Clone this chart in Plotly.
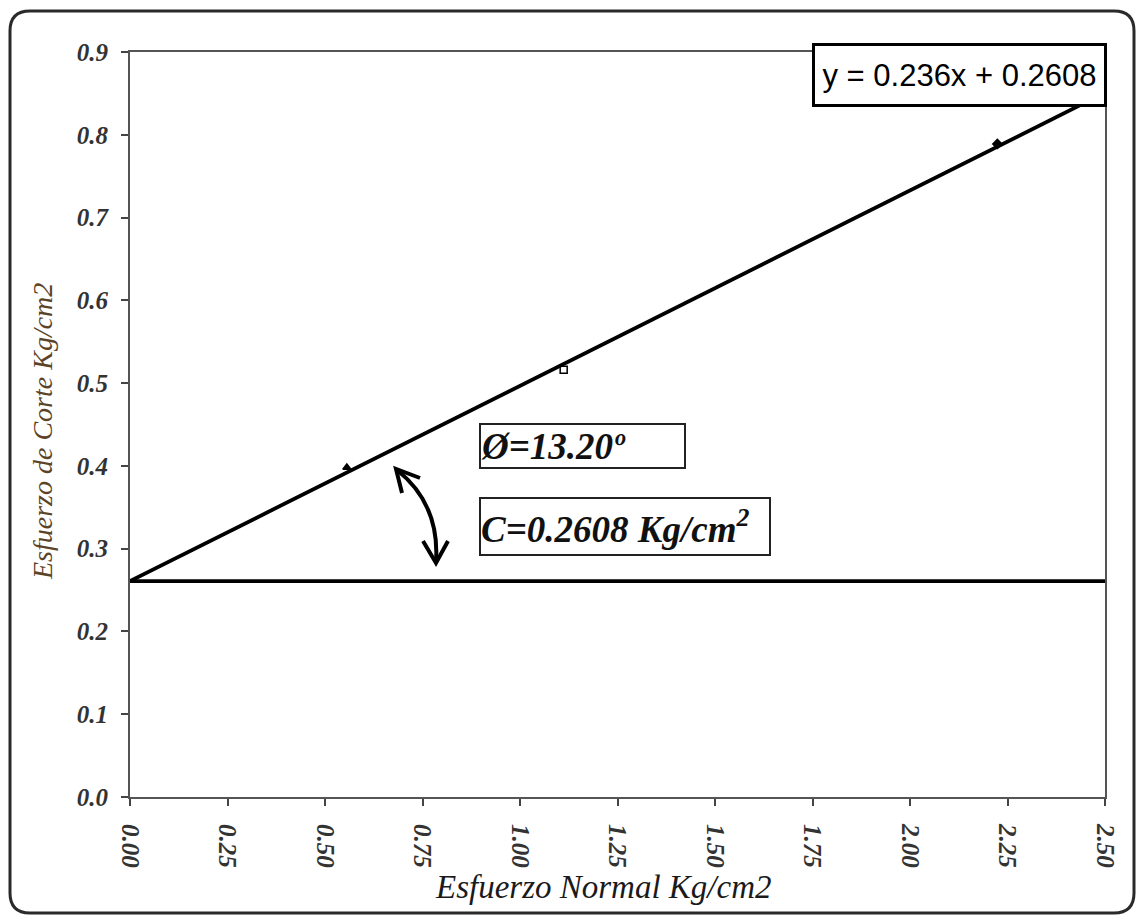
import plotly.graph_objects as go

# Direct shear test results: normal stress vs. shear stress (Kg/cm2)
normal_stress = [0.556, 1.112, 2.224]
shear_stress = [0.398, 0.516, 0.789]

# Fitted Mohr-Coulomb envelope: y = slope * x + cohesion
slope = 0.236
cohesion = 0.2608
friction_angle = 13.20

x_ticks = [0.00, 0.25, 0.50, 0.75, 1.00, 1.25, 1.50, 1.75, 2.00, 2.25, 2.50]
y_ticks = [0.0, 0.1, 0.2, 0.3, 0.4, 0.5, 0.6, 0.7, 0.8, 0.9]
x_range = [0.0, 2.5]
y_range = [0.0, 0.9]

W, H = 1137, 917
ML, MR, MT, MB = 130, 32, 52, 120
PW, PH = W - ML - MR, H - MT - MB


def px(xp):
    return (xp - ML) / PW


def py(yp):
    return (H - MB - yp) / PH


SERIF = "Liberation Serif, Times New Roman, serif"
SANS = "Liberation Sans, Arial, sans-serif"

fig = go.Figure()

# envelope line across the whole axis
env_x = [x_range[0], x_range[1]]
env_y = [slope * v + cohesion for v in env_x]
fig.add_trace(go.Scatter(x=env_x, y=env_y, mode="lines",
                         line=dict(color="black", width=3.8),
                         hoverinfo="skip", showlegend=False))

# cohesion reference line
fig.add_trace(go.Scatter(x=env_x, y=[cohesion, cohesion], mode="lines",
                         line=dict(color="black", width=3.8),
                         hoverinfo="skip", showlegend=False))

# measured points
symbols = ["triangle-up", "square-open", "diamond"]
for i in range(len(normal_stress)):
    fig.add_trace(go.Scatter(
        x=[normal_stress[i]], y=[shear_stress[i]], mode="markers",
        marker=dict(symbol=symbols[i], size=7, color="black",
                    line=dict(color="black", width=1.5)),
        showlegend=False))

shapes = []

# rounded outer frame
x0, x1 = px(10), px(1134)
yt, yb = py(11), py(913)
rx, ry = 20 / PW, 20 / PH
frame = (f"M {x0+rx},{yt} L {x1-rx},{yt} Q {x1},{yt} {x1},{yt-ry} "
         f"L {x1},{yb+ry} Q {x1},{yb} {x1-rx},{yb} "
         f"L {x0+rx},{yb} Q {x0},{yb} {x0},{yb+ry} "
         f"L {x0},{yt-ry} Q {x0},{yt} {x0+rx},{yt} Z")
shapes.append(dict(type="path", xref="paper", yref="paper", path=frame,
                   line=dict(color="#2a2a2a", width=3)))

# curved double arrow marking the friction angle
p0, c, p2 = (397, 470), (440, 504), (436, 562)
curve = (f"M {px(p0[0])},{py(p0[1])} Q {px(c[0])},{py(c[1])} "
         f"{px(p2[0])},{py(p2[1])}")
shapes.append(dict(type="path", xref="paper", yref="paper", path=curve,
                   line=dict(color="black", width=4)))
for tip, a1, a2 in [((396, 469), (420, 478), (402, 493)),
                    ((436, 563), (423, 541), (448, 541))]:
    head = (f"M {px(a1[0])},{py(a1[1])} L {px(tip[0])},{py(tip[1])} "
            f"L {px(a2[0])},{py(a2[1])}")
    shapes.append(dict(type="path", xref="paper", yref="paper", path=head,
                       line=dict(color="black", width=4)))

annotations = [
    dict(text=f"y = {slope}x + {cohesion}", xref="paper", yref="paper",
         x=px(959.5), y=py(75), xanchor="center", yanchor="middle",
         showarrow=False, font=dict(family=SANS, size=31, color="black"),
         bgcolor="white", bordercolor="black", borderwidth=3, borderpad=0,
         width=289, height=58),
    dict(text=f"<b><i>Ø={friction_angle:.2f}º</i></b>", xref="paper", yref="paper",
         x=px(582.5), y=py(446), xanchor="center", yanchor="middle",
         showarrow=False, align="left",
         font=dict(family=SERIF, size=37, color="#111"),
         bgcolor="white", bordercolor="#222", borderwidth=2, borderpad=0,
         width=203, height=42),
    dict(text=f"<b><i>C={cohesion} Kg/cm<sup>2</sup></i></b>", xref="paper", yref="paper",
         x=px(625), y=py(526.5), xanchor="center", yanchor="middle",
         showarrow=False, align="left",
         font=dict(family=SERIF, size=37, color="#111"),
         bgcolor="white", bordercolor="#222", borderwidth=2, borderpad=0,
         width=288, height=55),
    dict(text="<i>Esfuerzo Normal Kg/cm2</i>", xref="paper", yref="paper",
         x=px(603), y=py(887), xanchor="center", yanchor="middle",
         showarrow=False, font=dict(family=SERIF, size=33, color="#1a1a1a")),
    dict(text="<i>Esfuerzo de Corte Kg/cm2</i>", xref="paper", yref="paper",
         x=px(43), y=py(432), xanchor="center", yanchor="middle",
         textangle=-90, showarrow=False,
         font=dict(family=SERIF, size=28, color="#5c4326")),
]

axis_common = dict(showgrid=False, zeroline=False, showline=True,
                   linecolor="#555", linewidth=2, mirror=True,
                   ticks="outside", ticklen=7, tickwidth=2, tickcolor="#444",
                   tickfont=dict(family=SERIF, size=25, color="#333",
                                 weight="bold", style="italic"))

fig.update_xaxes(range=x_range, tickvals=x_ticks,
                 ticktext=[f"{v:.2f}" for v in x_ticks], tickangle=90,
                 ticklabelstandoff=13, **axis_common)
fig.update_yaxes(range=y_range, tickvals=y_ticks,
                 ticktext=[f"{v:.1f}" for v in y_ticks],
                 ticklabelstandoff=8, **axis_common)

fig.update_layout(width=W, height=H,
                  margin=dict(l=ML, r=MR, t=MT, b=MB, autoexpand=False),
                  plot_bgcolor="white", paper_bgcolor="white",
                  shapes=shapes, annotations=annotations, showlegend=False)

fig.write_html("out.html")
